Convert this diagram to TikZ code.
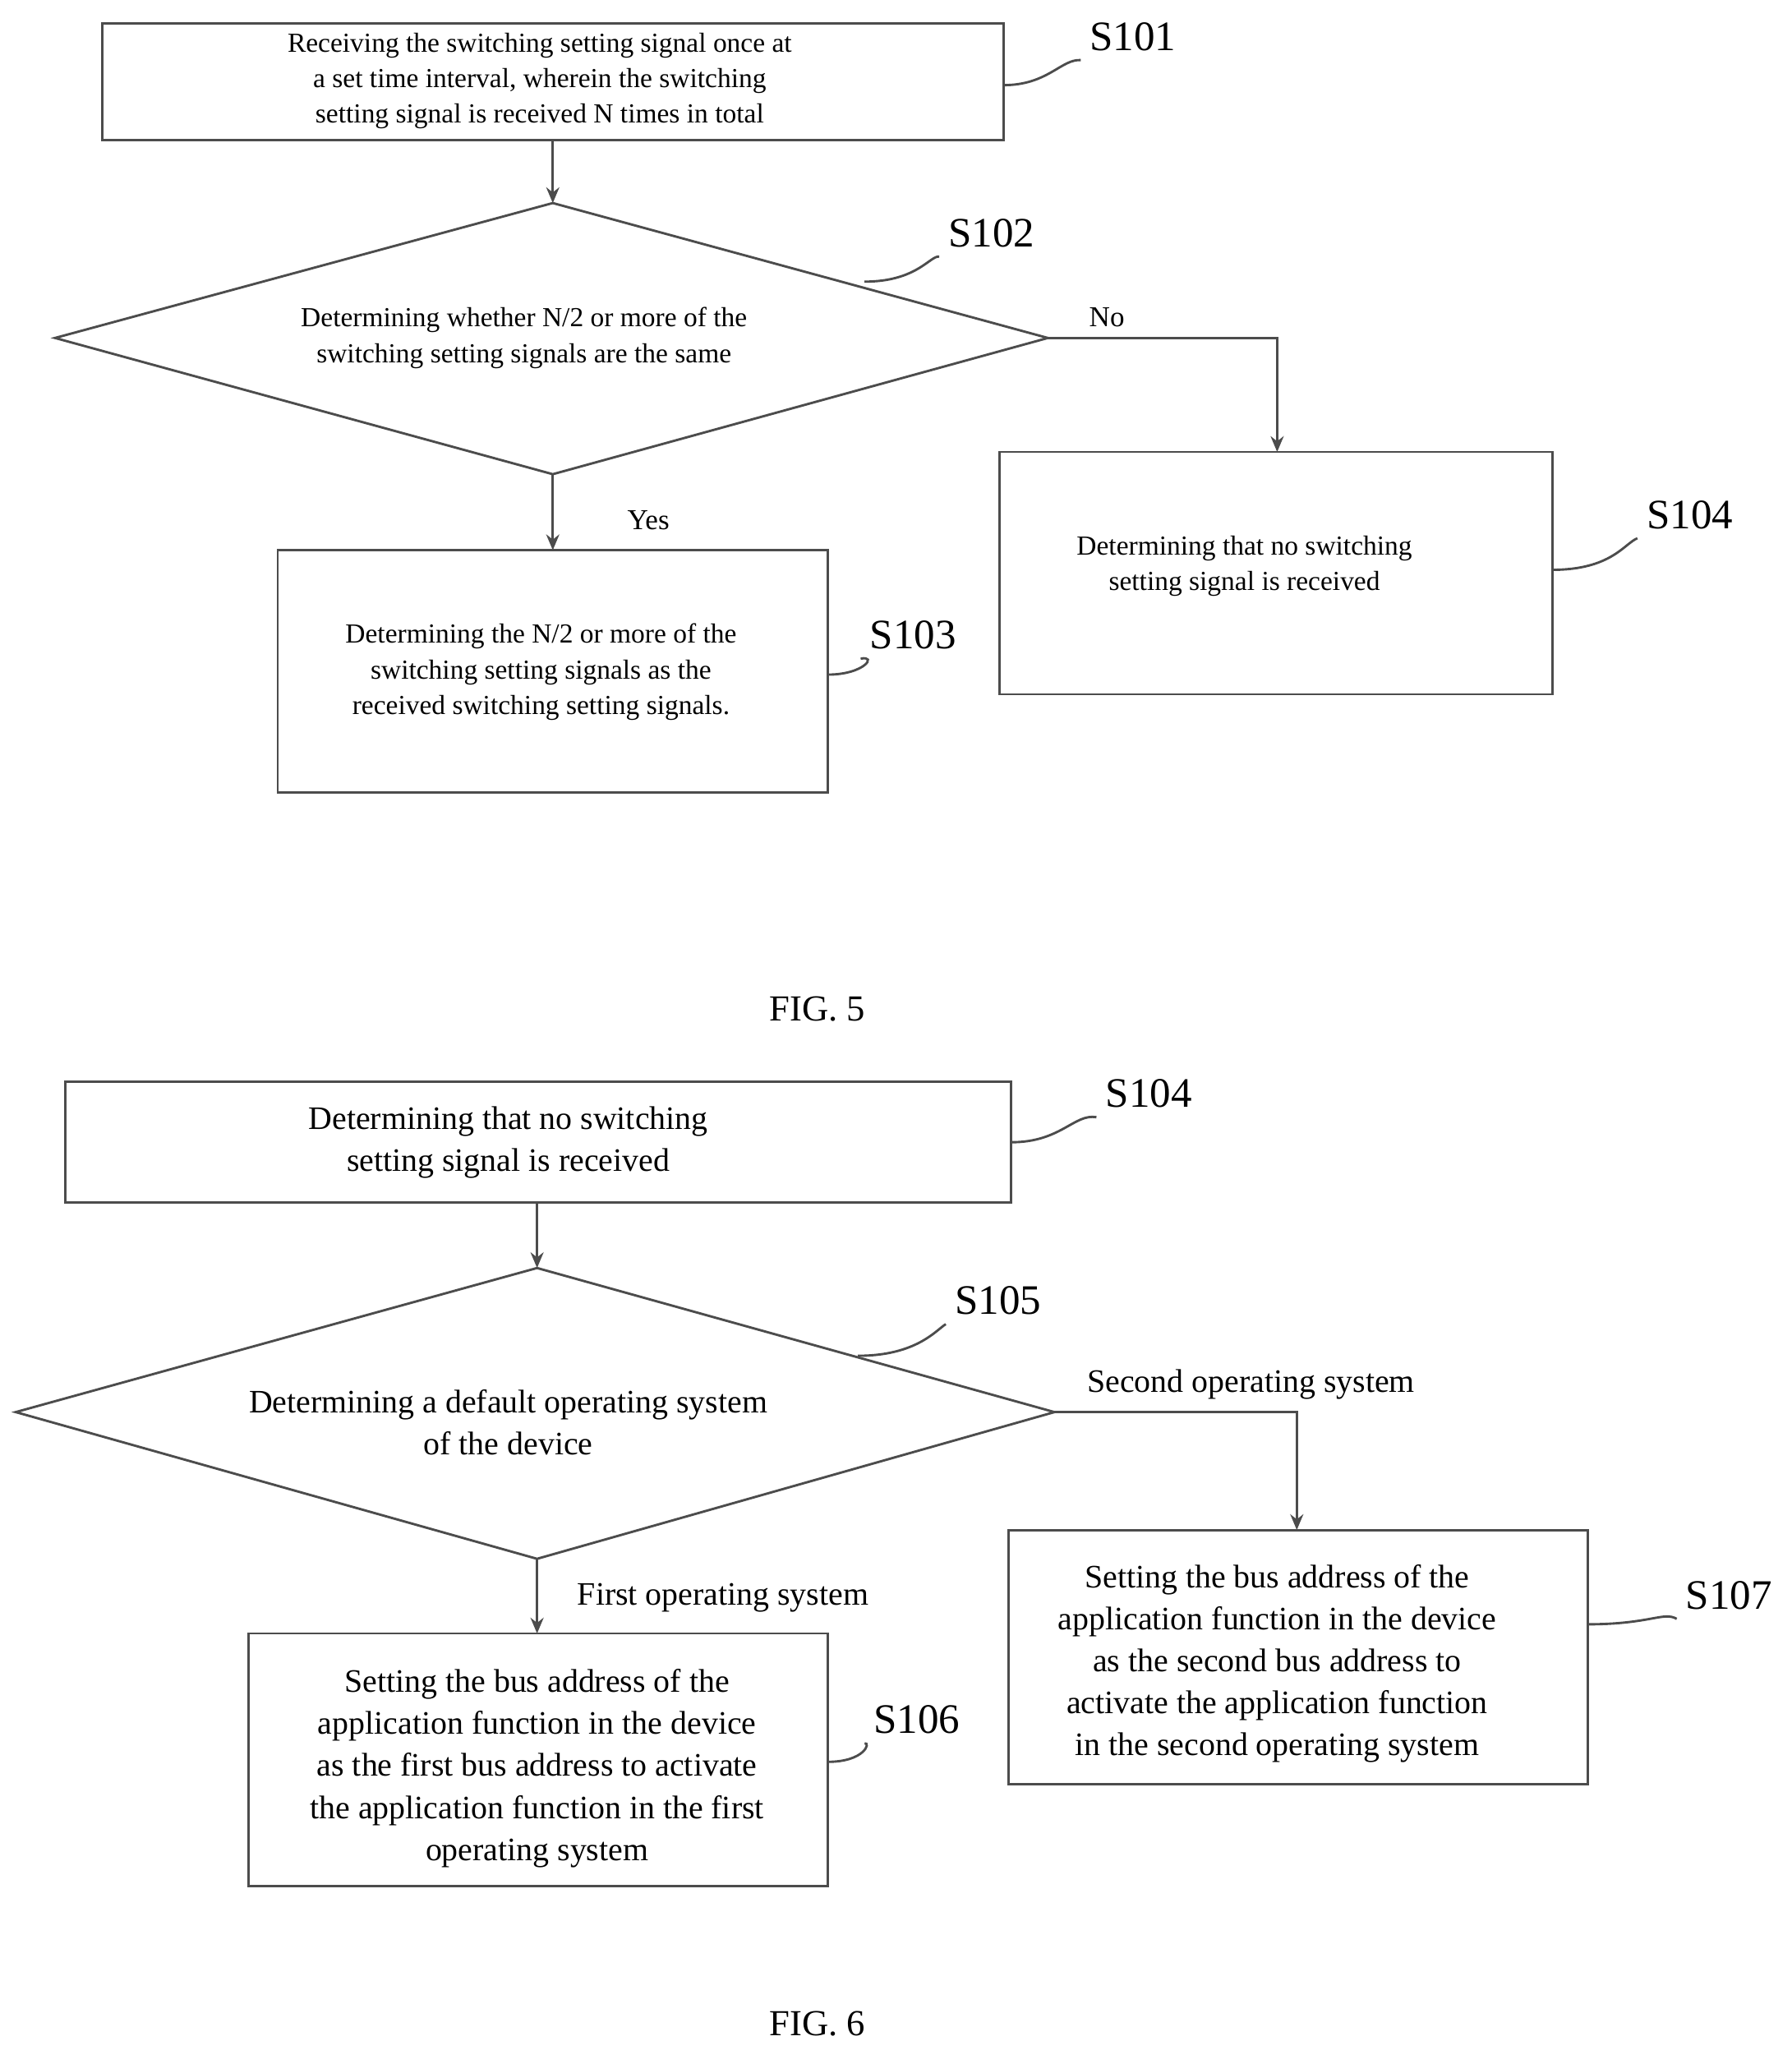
\documentclass[tikz,border=0pt]{standalone}
\usepackage{fontspec}
\setmainfont{Liberation Serif}
\usetikzlibrary{arrows.meta}
\begin{document}
\begin{tikzpicture}[x=0.5pt,y=-0.5pt,
  ln/.style={draw=black!70,line width=0.9pt},
  arr/.style={ln,-{Stealth[length=6pt,width=5pt]}},
  box/.style={ln,draw},
  t5/.style={align=center,font=\fontsize{10.5}{13.5}\selectfont},
  t6/.style={align=center,font=\fontsize{12.5}{16}\selectfont},
  lab/.style={font=\fontsize{16}{16}\selectfont},
  lbl/.style={font=\fontsize{11}{13}\selectfont}]
\useasboundingbox (0,0) rectangle (1368,1565);
% FIG 5
\draw[box] (78,18) rectangle (766,107);
\node[t5] (t101) at (412,62) {Receiving the switching setting signal once at\\a set time interval, wherein the switching\\setting signal is received N times in total};
\coordinate (b101) at (422,107);
\coordinate (d1t) at (422,155); \coordinate (d1l) at (42,258);
\coordinate (d1r) at (800,258); \coordinate (d1b) at (422,362);
\draw[ln] (d1t)--(d1r)--(d1b)--(d1l)--cycle;
\node[t5] (t102) at (400,258) {Determining whether N/2 or more of the\\switching setting signals are the same};
\draw[arr] (b101)--(d1t);
\draw[box] (212,420) rectangle (632,605);
\node[t5] (t103) at (413,513) {Determining the N/2 or more of the\\switching setting signals as the\\received switching setting signals.};
\coordinate (b103) at (422,420);
\draw[arr] (d1b)--(b103);
\node[lbl] (yes) at (495,397) {Yes};
\draw[box] (763,345) rectangle (1185,530);
\node[t5] (t104a) at (950,432) {Determining that no switching\\setting signal is received};
\coordinate (b104) at (975,345);
\draw[arr] (d1r)-|(b104);
\node[lbl] (no) at (845,242) {No};
\node[lab] (s101) at (865,28) {S101};
\node[lab] (s102) at (757,178) {S102};
\node[lab] (s103) at (697,485) {S103};
\node[lab] (s104a) at (1290,393) {S104};
\draw[ln] (766,65) .. controls (800,65) and (810,45) .. (s101.south west);
\draw[ln] (660,215) .. controls (700,215) and (710,195) .. (s102.south west);
\draw[ln] (632,515) .. controls (660,515) and (670,500) .. (s103.south west);
\draw[ln] (1185,435) .. controls (1230,435) and (1240,415) .. (s104a.south west);
\node[font=\fontsize{14}{14}\selectfont] (f5) at (624,770) {FIG. 5};
% FIG 6
\draw[box] (50,826) rectangle (772,918);
\node[t6] (t104b) at (388,872) {Determining that no switching\\setting signal is received};
\coordinate (b104b) at (410,918);
\coordinate (d2t) at (410,968); \coordinate (d2l) at (12,1078);
\coordinate (d2r) at (805,1078); \coordinate (d2b) at (410,1190);
\draw[ln] (d2t)--(d2r)--(d2b)--(d2l)--cycle;
\draw[arr] (b104b)--(d2t);
\node[t6] (t105) at (388,1086) {Determining a default operating system\\of the device};
\draw[box] (770,1168) rectangle (1212,1362);
\node[t6] (t107) at (975,1270) {Setting the bus address of the\\application function in the device\\as the second bus address to\\activate the application function\\in the second operating system};
\coordinate (b107) at (990,1168);
\draw[arr] (d2r)-|(b107);
\node[t6] (sec) at (955,1057) {Second operating system};
\draw[box] (190,1247) rectangle (632,1440);
\node[t6] (t106) at (410,1350) {Setting the bus address of the\\application function in the device\\as the first bus address to activate\\the application function in the first\\operating system};
\coordinate (b106) at (410,1247);
\draw[arr] (d2b)--(b106);
\node[t6] (fst) at (552,1220) {First operating system};
\node[lab] (s104b) at (877,835) {S104};
\node[lab] (s105) at (762,993) {S105};
\node[lab] (s107) at (1320,1218) {S107};
\node[lab] (s106) at (700,1313) {S106};
\draw[ln] (772,872) .. controls (810,872) and (820,850) .. (s104b.south west);
\draw[ln] (655,1035) .. controls (700,1035) and (715,1015) .. (s105.south west);
\draw[ln] (1212,1240) .. controls (1260,1240) and (1270,1230) .. (s107.south west);
\draw[ln] (632,1345) .. controls (660,1345) and (665,1330) .. (s106.south west);
\node[font=\fontsize{14}{14}\selectfont] (f6) at (624,1545) {FIG. 6};
\end{tikzpicture}
\end{document}
